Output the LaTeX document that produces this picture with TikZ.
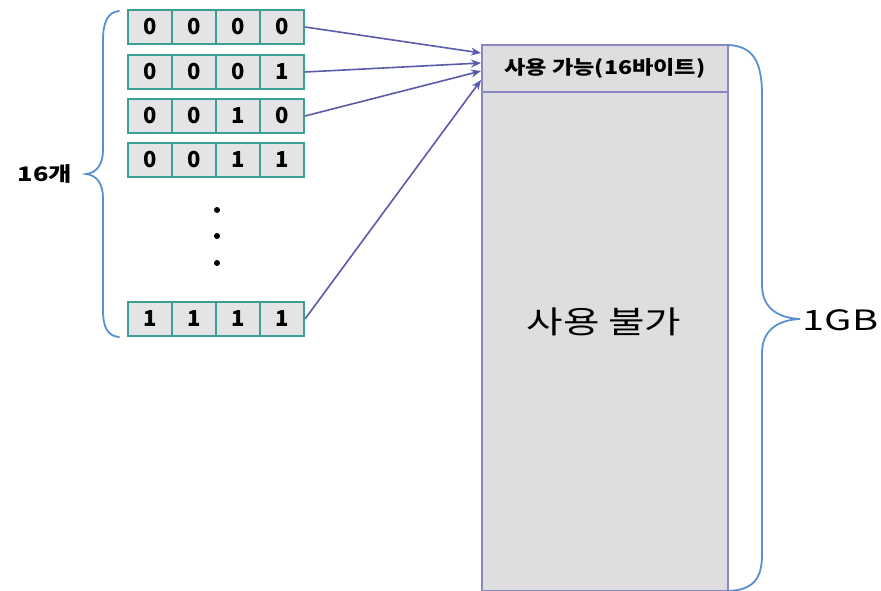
\documentclass[tikz,border=0pt]{standalone}
\usepackage{fontspec}
\setmainfont{Noto Sans CJK KR}
\usetikzlibrary{arrows.meta}
\definecolor{cellfill}{HTML}{E4E3E5}
\definecolor{cellline}{HTML}{3E9E94}
\definecolor{boxfill}{HTML}{DEDEDE}
\definecolor{boxline}{HTML}{8A88C4}
\definecolor{arrowc}{HTML}{5C5AAA}
\definecolor{bracec}{HTML}{5A8FD0}
% wide-set text helper
\newcommand{\widetext}[3]{{\fontsize{#1}{#1}\selectfont\addfontfeature{FakeStretch=#2}#3}}
\tikzset{
  bitcell/.style={draw=cellline, line width=2pt, fill=cellfill, minimum width=44pt,
    minimum height=34pt, inner sep=0pt, font=\fontsize{22}{22}\selectfont\bfseries},
  membox/.style={draw=boxline, line width=1.8pt, fill=boxfill, inner sep=0pt, minimum width=246pt},
  link/.style={draw=arrowc, line width=1.6pt, -{Stealth[length=10pt,width=8pt]}},
  brace/.style={draw=bracec, line width=1.8pt, line cap=round},
  dot/.style={circle, fill=black, inner sep=0pt, minimum size=6pt}
}
\begin{document}
\begin{tikzpicture}[x=1pt,y=-1pt]
\useasboundingbox[fill=white] (0,0) rectangle (881,591);

% memory block: usable part on top, unusable remainder below
\node[membox, minimum height=47pt, anchor=north west, font=\bfseries]
  (avail) at (481,44) {\widetext{19}{1.22}{사용 가능(16바이트)}};
\node[membox, minimum height=499pt, anchor=north west]
  (rest) at (481,91) {};
\node (restlbl) at (604,322) {\widetext{31}{1.28}{사용 불가}};

% 4-bit rows
\foreach \r/\y/\bits in {1/27/{0,0,0,0}, 2/72/{0,0,0,1}, 3/116/{0,0,1,0}, 4/160/{0,0,1,1}, 5/319/{1,1,1,1}} {
  \foreach \b [count=\c] in \bits {
    \node[bitcell] (r\r c\c) at (106+44*\c,\y) {\b};
  }
}

% ellipsis between the rows
\node[dot] (d1) at (217,210) {};
\node[dot] (d2) at (217,236) {};
\node[dot] (d3) at (217,263) {};

% arrow targets on the left side of the usable block
\coordinate (t1) at (481,53);
\coordinate (t2) at (481,63);
\coordinate (t3) at (481,71);
\coordinate (t4) at (481,80);
\draw[link] (r1c4.east) -- (t1);
\draw[link] (r2c4.east) -- (t2);
\draw[link] (r3c4.east) -- (t3);
\draw[link] (r5c4.east) -- (t4);

% left brace and count
\draw[brace] (119,11) .. controls (108,12) and (103,22) .. (103,40) -- (103,150)
  .. controls (103,165) and (96,173) .. (86,174)
  .. controls (96,175) and (103,183) .. (103,198) -- (103,310)
  .. controls (103,328) and (108,336) .. (119,337);
\node[font=\bfseries] (cnt) at (45,174) {\widetext{20}{1.27}{16개}};

% right brace and size
\draw[brace] (728,45) .. controls (752,46) and (762,60) .. (762,95) -- (762,285)
  .. controls (762,308) and (778,318) .. (800,319)
  .. controls (778,320) and (762,330) .. (762,353) -- (762,555)
  .. controls (762,580) and (752,590) .. (728,591);
\node[anchor=west] (size) at (799,320) {\widetext{28}{1.42}{1GB}};
\end{tikzpicture}
\end{document}
